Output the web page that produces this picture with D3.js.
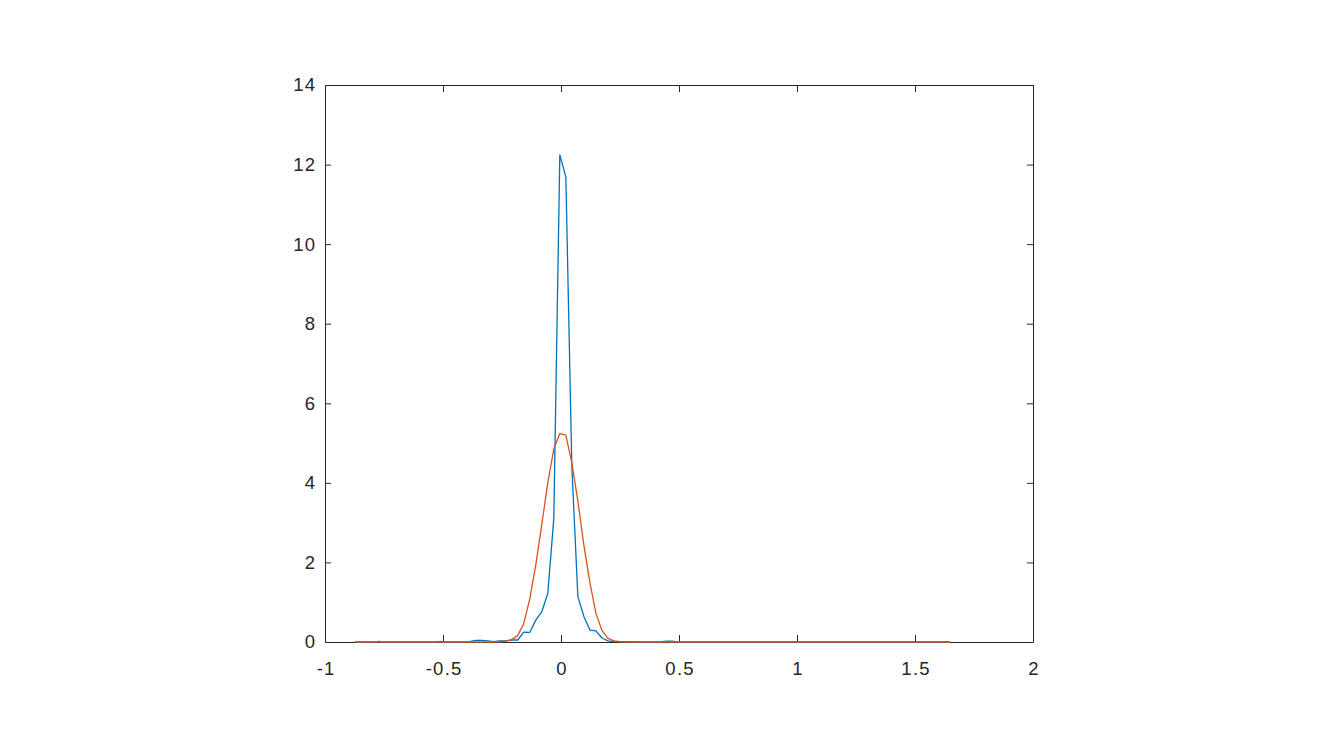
<!DOCTYPE html>
<html>
<head>
<meta charset="utf-8">
<script src="https://d3js.org/d3.v7.min.js"></script>
<style>
  html, body { margin: 0; padding: 0; background: #ffffff; }
  text { font-family: "Liberation Sans", Arial, Helvetica, sans-serif; }
</style>
</head>
<body>
<script>
// ---- data ----
const xTicks = [-1, -0.5, 0, 0.5, 1, 1.5, 2];
const xTickLabels = ["-1", "-0.5", "0", "0.5", "1", "1.5", "2"];
const yTicks = [0, 2, 4, 6, 8, 10, 12, 14];
const yTickLabels = ["0", "2", "4", "6", "8", "10", "12", "14"];

// blue series (empirical density)
const blueX = [-0.873, -0.785, -0.77, -0.755, -0.525, -0.51, -0.495,
  -0.413, -0.3875, -0.362, -0.3365, -0.311, -0.2855, -0.26, -0.2345, -0.209, -0.1835,
  -0.158, -0.1325, -0.107, -0.0815, -0.056, -0.0305, -0.005, 0.0205, 0.046, 0.0715,
  0.097, 0.1225, 0.148, 0.1735, 0.199, 0.2245, 0.25, 0.2755, 0.301, 0.3265, 0.352,
  0.419, 0.4445, 0.47, 0.4955, 1.648];
const blueY = [0, 0, 0.015, 0, 0, 0.015, 0,
  0, 0.01, 0.04, 0.04, 0.03, 0.01, 0.03, 0.03, 0.05, 0.05,
  0.25, 0.24, 0.55, 0.76, 1.22, 3.1, 12.24, 11.69, 4.4, 1.14,
  0.64, 0.30, 0.28, 0.10, 0.03, 0.01, 0.01, 0.01, 0.01, 0.005, 0,
  0, 0.02, 0.02, 0, 0];

// red series (fitted density)
const redX = [-0.873, -0.2855, -0.26, -0.2345, -0.209, -0.1835, -0.158, -0.1325, -0.107,
  -0.0815, -0.056, -0.0305, -0.005, 0.0205, 0.046, 0.0715, 0.097, 0.1225, 0.148,
  0.1735, 0.199, 0.2245, 0.25, 0.2755, 1.648];
const redY = [0, 0, 0.005, 0.02, 0.06, 0.16, 0.46, 1.08, 1.93,
  2.95, 4.0, 4.85, 5.24, 5.2, 4.5, 3.54, 2.43, 1.49, 0.72,
  0.29, 0.09, 0.03, 0.01, 0, 0];

// ---- layout ----
const W = 1334, H = 750;
const plotL = 325, plotR = 1033, plotT = 85, plotB = 642;
const axisColor = "#262626";
const fontSize = 18.5, letterSp = 1.3;

const svg = d3.select("body").append("svg")
  .attr("width", W).attr("height", H)
  .style("background", "#ffffff");

const x = d3.scaleLinear().domain([-1, 2]).range([plotL, plotR]);
const y = d3.scaleLinear().domain([0, 14]).range([plotB, plotT]);

// axes
const fmtX = (d, i) => xTickLabels[i];
const fmtY = (d, i) => yTickLabels[i];

const xAxis = svg.append("g").attr("transform", `translate(0,${plotB})`)
  .call(d3.axisBottom(x).tickValues(xTicks).tickFormat(fmtX).tickSizeInner(-7).tickSizeOuter(0).tickPadding(20));
const xAxisTop = svg.append("g").attr("transform", `translate(0,${plotT})`)
  .call(d3.axisTop(x).tickValues(xTicks).tickFormat("").tickSizeInner(-7).tickSizeOuter(0));
const yAxis = svg.append("g").attr("transform", `translate(${plotL},0)`)
  .call(d3.axisLeft(y).tickValues(yTicks).tickFormat(fmtY).tickSizeInner(-6).tickSizeOuter(0).tickPadding(8.7));
const yAxisRight = svg.append("g").attr("transform", `translate(${plotR},0)`)
  .call(d3.axisRight(y).tickValues(yTicks).tickFormat("").tickSizeInner(-6).tickSizeOuter(0));

[xAxis, xAxisTop, yAxis, yAxisRight].forEach(g => {
  g.select(".domain").attr("stroke", axisColor).attr("stroke-width", 1);
  g.selectAll(".tick line").attr("stroke", axisColor).attr("stroke-width", 1);
  g.selectAll(".tick text").attr("fill", axisColor)
    .style("font-size", fontSize + "px")
    .style("letter-spacing", letterSp + "px")
    .style("font-family", "'Liberation Sans', Arial, Helvetica, sans-serif");
});
// compensate centring for trailing letter spacing on x labels
xAxis.selectAll(".tick text").attr("dx", (letterSp / 2) + "px");

// lines (drawn over the axes, as in the reference)
const line = d3.line().x(d => x(d[0])).y(d => y(d[1]));
const blueData = blueX.map((v, i) => [v, blueY[i]]);
const redData = redX.map((v, i) => [v, redY[i]]);

svg.append("path").datum(blueData)
  .attr("d", line).attr("fill", "none")
  .attr("stroke", "#0072BD").attr("stroke-width", 1.3)
  .attr("stroke-linejoin", "round");
svg.append("path").datum(redData)
  .attr("d", line).attr("fill", "none")
  .attr("stroke", "#D95319").attr("stroke-width", 1.3)
  .attr("stroke-linejoin", "round");
</script>
</body>
</html>
